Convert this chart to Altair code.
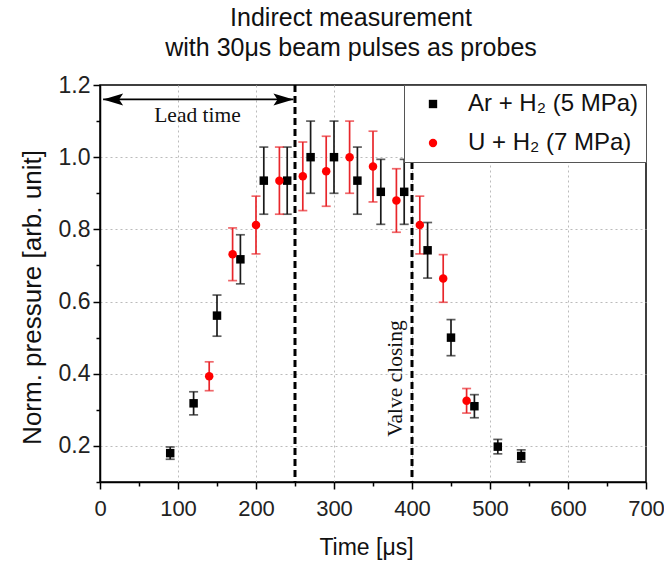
import altair as alt
import pandas as pd

# ---- data ----
ar_time = [90, 120, 150, 180, 210, 240, 270, 300, 330, 360, 390, 420, 450, 480, 510, 540]
ar_pressure = [0.180, 0.318, 0.561, 0.717, 0.935, 0.935, 1.000, 1.000, 0.935, 0.904, 0.904, 0.742, 0.500, 0.310, 0.198, 0.172]
ar_error = [0.017, 0.032, 0.057, 0.068, 0.093, 0.093, 0.100, 0.100, 0.093, 0.090, 0.090, 0.077, 0.050, 0.032, 0.020, 0.017]

u_time = [140, 170, 200, 230, 260, 290, 320, 350, 380, 410, 440, 470]
u_pressure = [0.393, 0.731, 0.812, 0.935, 0.947, 0.961, 1.000, 0.974, 0.880, 0.812, 0.664, 0.325]
u_error = [0.040, 0.073, 0.080, 0.093, 0.095, 0.097, 0.100, 0.098, 0.088, 0.080, 0.066, 0.034]

series_names = ["Ar + H\u2082 (5 MPa)", "U + H\u2082 (7 MPa)"]
marker_colors = ["#000000", "#ff0000"]
errorbar_colors = ["#1a1a1a", "#e8262b"]
marker_shapes = ["square", "circle"]

x_ticks = [0, 50, 100, 150, 200, 250, 300, 350, 400, 450, 500, 550, 600, 650, 700]
y_ticks = [0.1, 0.2, 0.3, 0.4, 0.5, 0.6, 0.7, 0.8, 0.9, 1.0, 1.1, 1.2]

marker_times = [250, 400]
lead_arrow_time = [4, 248]
lead_arrow_level = 1.16
lead_label = ["Lead time"]
lead_label_pos = [125, 1.113]
valve_label = ["Valve closing"]
valve_label_pos = [380, 0.387]

title_lines = ["Indirect measurement", "with 30\u03bcs beam pulses as probes"]
x_title = "Time [\u03bcs]"
y_title = "Norm. pressure [arb. unit]"

# ---- tables ----
rows = []
for t, p, e in zip(ar_time, ar_pressure, ar_error):
    rows.append({"time": t, "pressure": p, "lower": p - e, "upper": p + e, "series": series_names[0]})
for t, p, e in zip(u_time, u_pressure, u_error):
    rows.append({"time": t, "pressure": p, "lower": p - e, "upper": p + e, "series": series_names[1]})
df = pd.DataFrame(rows)

markers_df = pd.DataFrame({"time": marker_times})
arrow_df = pd.DataFrame({"time": [lead_arrow_time[0]], "time2": [lead_arrow_time[1]], "pressure": [lead_arrow_level]})
head_left_df = pd.DataFrame({"time": [lead_arrow_time[0]], "pressure": [lead_arrow_level]})
head_right_df = pd.DataFrame({"time": [lead_arrow_time[1]], "pressure": [lead_arrow_level]})
lead_df = pd.DataFrame({"time": [lead_label_pos[0]], "pressure": [lead_label_pos[1]], "label": lead_label})
valve_df = pd.DataFrame({"time": [valve_label_pos[0]], "pressure": [valve_label_pos[1]], "label": valve_label})

FONT = "Liberation Sans"
SERIF = "Liberation Serif"

x_axis = alt.Axis(
    values=x_ticks,
    labelExpr="datum.value % 100 === 0 ? datum.label : ''",
    tickSize={"condition": {"test": "datum.value % 100 === 0", "value": 7}, "value": 4},
    gridOpacity={"condition": {"test": "datum.value % 100 === 0 && datum.value > 0 && datum.value < 700", "value": 1}, "value": 0},
    grid=True,
    labelFlush=False,
    labelOverlap=False,
    labelPadding=9,
    labelFontSize=22,
    titleX=266,
    titleY=65,
    titleBaseline="middle",
    titleAnchor="start",
    titleAlign="center",
)
y_axis = alt.Axis(
    values=y_ticks,
    labelExpr="round(datum.value * 10) % 2 === 0 ? format(datum.value, '.1f') : ''",
    tickSize={"condition": {"test": "round(datum.value * 10) % 2 === 0", "value": 7}, "value": 4},
    gridOpacity={"condition": {"test": "round(datum.value * 10) % 2 === 0 && datum.value < 1.15", "value": 1}, "value": 0},
    grid=True,
    labelFlush=False,
    labelOverlap=False,
    labelPadding=3,
    titleAngle=-90,
    titleX=-68,
    titleY=212,
    titleBaseline="middle",
    titleAlign="center",
)

x_scale = alt.Scale(domain=[0, 700], nice=False, zero=False)
y_scale = alt.Scale(domain=[0.1, 1.2], nice=False, zero=False)


def X(field="time"):
    return alt.X(f"{field}:Q", scale=x_scale, axis=x_axis, title=x_title)


def Y(field="pressure"):
    return alt.Y(f"{field}:Q", scale=y_scale, axis=y_axis, title=y_title)


base = alt.Chart(df)

error_layers = []
for name, col in zip(series_names, errorbar_colors):
    sub = base.transform_filter(alt.datum.series == name)
    error_layers.append(sub.mark_rule(strokeWidth=1.7, color=col).encode(x=X(), y=Y("lower"), y2="upper:Q"))
    error_layers.append(sub.mark_tick(orient="horizontal", size=9, thickness=1.7, color=col).encode(x=X(), y=Y("lower")))
    error_layers.append(sub.mark_tick(orient="horizontal", size=9, thickness=1.7, color=col).encode(x=X(), y=Y("upper")))

points = base.mark_point(filled=True, opacity=1, size=72).encode(
    x=X(),
    y=Y(),
    color=alt.Color("series:N", scale=alt.Scale(domain=series_names, range=marker_colors), title=None),
    shape=alt.Shape("series:N", scale=alt.Scale(domain=series_names, range=marker_shapes), title=None),
)

dashed = alt.Chart(markers_df).mark_rule(color="black", strokeWidth=3, strokeDash=[7, 4]).encode(x=X())

arrow_line = alt.Chart(arrow_df).mark_rule(color="black", strokeWidth=1.8).encode(
    x=X(), x2="time2:Q", y=Y()
)
head_left = alt.Chart(head_left_df).mark_point(
    filled=True, opacity=1, color="black", size=400, strokeWidth=0,
    shape="M 0 0 L 2 -0.6 L 1.6 0 L 2 0.6 Z",
).encode(x=X(), y=Y())
head_right = alt.Chart(head_right_df).mark_point(
    filled=True, opacity=1, color="black", size=400, strokeWidth=0,
    shape="M 0 0 L -2 -0.6 L -1.6 0 L -2 0.6 Z",
).encode(x=X(), y=Y())

lead_text = alt.Chart(lead_df).mark_text(font=SERIF, fontSize=21.5, color="#111111", align="center", baseline="middle").encode(
    x=X(), y=Y(), text="label:N"
)
valve_text = alt.Chart(valve_df).mark_text(font=SERIF, fontSize=21.5, color="#111111", align="center", baseline="middle", angle=270).encode(
    x=X(), y=Y(), text="label:N"
)

chart = (
    alt.layer(*error_layers, dashed, arrow_line, head_left, head_right, lead_text, valve_text, points)
    .properties(
        width=546,
        height=397,
        title=alt.Title(
            text=title_lines,
            font=FONT,
            fontSize=25,
            fontWeight="normal",
            color="#111111",
            anchor="middle",
            frame="group",
            dx=-22,
            dy=32,
            offset=20,
            lineHeight=30,
            baseline="bottom",
        ),
        autosize=alt.AutoSizeParams(type="none"),
        padding={"left": 100, "top": 85, "right": 18, "bottom": 83},
    )
    .configure_view(stroke="black", strokeWidth=1.5)
    .configure_axis(
        domainColor="black",
        domainWidth=1.5,
        tickColor="black",
        tickWidth=1.5,
        labelFont=FONT,
        labelFontSize=23,
        labelColor="#222222",
        titleFont=FONT,
        titleFontSize=26,
        titleFontWeight="normal",
        titleColor="#111111",
        gridColor="#bbbbbb",
        gridDash=[2, 3],
        gridWidth=1,
    )
    .configure_axisX(titleFontSize=23)
    .configure_legend(
        orient="top-right",
        offset=0,
        fillColor="white",
        strokeColor="#555555",
        padding=7,
        labelFont=FONT,
        labelFontSize=24,
        labelColor="#111111",
        symbolSize=70,
        symbolOffset=10,
        labelOffset=23,
        rowPadding=15,
        symbolStrokeWidth=0,
        labelLimit=400,
    )
)

chart.save("out.html", embed_options={"renderer": "svg", "actions": False})
